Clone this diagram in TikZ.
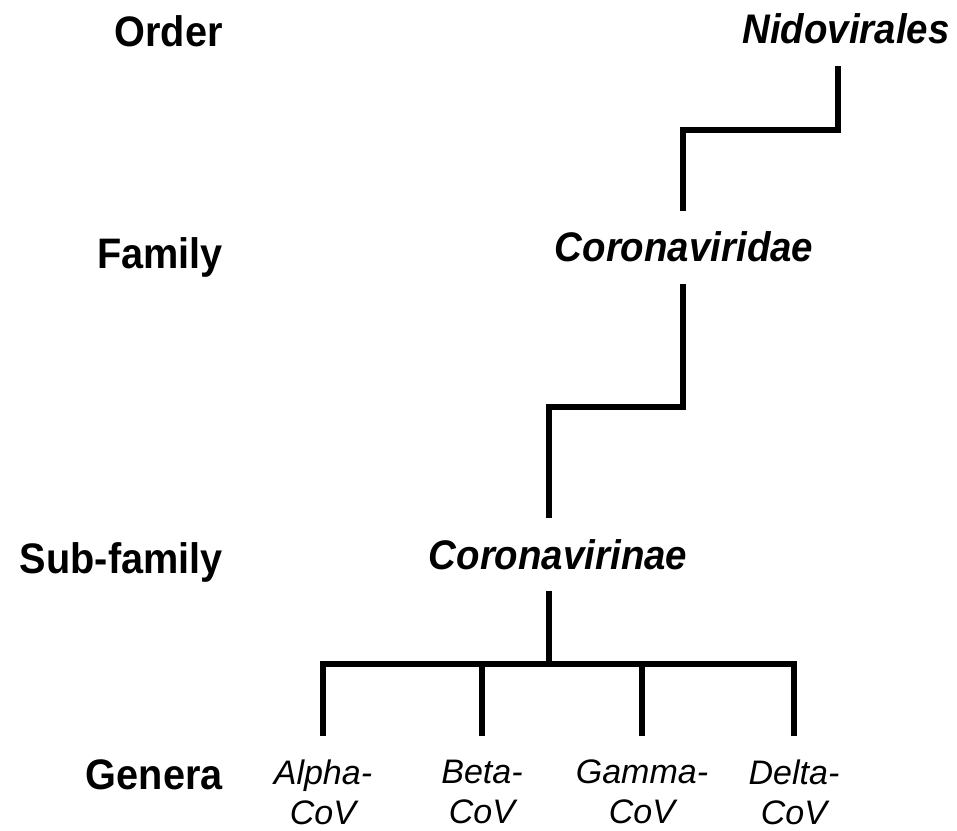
\documentclass[tikz,border=0pt]{standalone}
\usepackage{fontspec}
\setmainfont{Liberation Sans}
\newfontfamily\narrowfont[FakeStretch=0.93]{Liberation Sans}
\usepackage{tikz}

\begin{document}
\begin{tikzpicture}[x=0.75pt,y=0.75pt,yscale=-1,xscale=1,
  rank/.style={anchor=base east,inner sep=0pt,font=\narrowfont\bfseries\fontsize{32}{38}\selectfont},
  taxon/.style={anchor=base,inner sep=0pt,outer ysep=16pt,font=\narrowfont\bfseries\itshape\fontsize{31}{37}\selectfont},
  genus/.style={anchor=north,inner sep=0pt,outer ysep=18pt,align=center,font=\itshape\fontsize{25.5}{30}\selectfont},
  branch/.style={line width=4.5pt,line join=miter}]
\useasboundingbox (0,0) rectangle (957,831);

% Text Node
\node [rank] (order) at (223,47) {Order};
% Text Node
\node [rank] (family) at (223,268) {Family};
% Text Node
\node [rank] (subfamily) at (223,573) {Sub-family};
% Text Node
\node [rank] (genera) at (223,789) {Genera};

% Text Node
\node [taxon] (nido) at (846,44) {Nidovirales};
% Text Node
\node [taxon] (cvdae) at (684,262) {Coronaviridae};
% Text Node
\node [taxon] (cvinae) at (558,569) {Coronavirinae};

% Text Node
\node [genus] (alpha) at (323,736) {Alpha-\\CoV};
% Text Node
\node [genus] (beta) at (482,736) {Beta-\\CoV};
% Text Node
\node [genus] (gamma) at (642,736) {Gamma-\\CoV};
% Text Node
\node [genus] (delta) at (794,736) {Delta-\\CoV};

\coordinate (j1) at (838,130);
\coordinate (j2) at (683,130);
\coordinate (j3) at (683,407);
\coordinate (j4) at (549,407);
\coordinate (j5) at (549,664);

%Straight Lines
\draw [branch] (nido.south -| j1) -- (j1) -- (j2) -- (cvdae.north -| j2) ;
%Straight Lines
\draw [branch] (cvdae.south -| j3) -- (j3) -- (j4) -- (cvinae.north -| j4) ;
%Straight Lines
\draw [branch] (cvinae.south -| j5) -- (j5) ;
%Straight Lines
\draw [branch] (alpha.north) -- (alpha.north |- j5) -- (delta.north |- j5) -- (delta.north) ;
\foreach \g in {beta,gamma}
  \draw [branch] (\g.north |- j5) -- (\g.north) ;
\end{tikzpicture}
\end{document}
